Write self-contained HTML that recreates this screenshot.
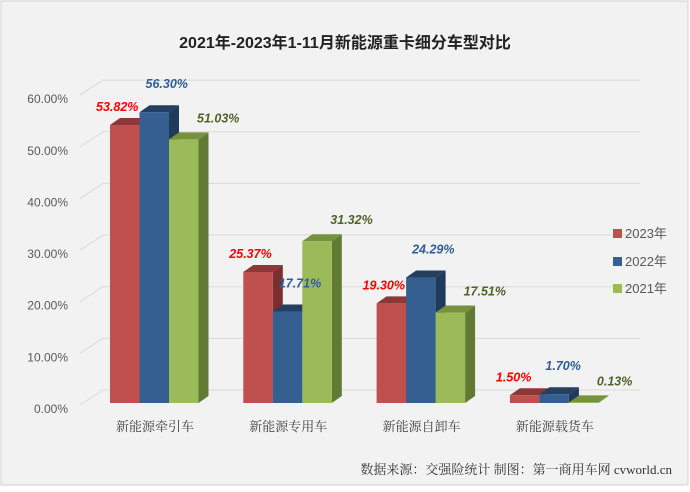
<!DOCTYPE html>
<html><head><meta charset="utf-8"><style>
body{margin:0;background:#fff;}
#c{position:relative;width:690px;height:487px;font-family:"Liberation Sans","Noto Sans CJK SC",sans-serif;}
</style></head><body>
<div id="c">
<svg id="svg" width="690" height="487" xmlns="http://www.w3.org/2000/svg">
<rect x="1" y="1" width="687" height="484" fill="#f2f2f2" stroke="#d0d0d0"/>
<text x="345" y="48" text-anchor="middle" font-size="16" font-weight="bold" fill="#222" font-family="Liberation Sans,Noto Sans CJK SC,sans-serif">2021年-2023年1-11月新能源重卡细分车型对比</text>
<g id="grid"></g><g id="bars"></g><g id="labels"></g>
<g>
<rect x="613" y="229" width="9" height="9" fill="#c0504d"/>
<text x="625" y="238" font-size="13" fill="#595959">2023年</text>
<rect x="613" y="257" width="9" height="9" fill="#365f91"/>
<text x="625" y="266" font-size="13" fill="#595959">2022年</text>
<rect x="613" y="284" width="9" height="9" fill="#9bbb59"/>
<text x="625" y="293" font-size="13" fill="#595959">2021年</text>
</g>
<text x="672" y="474" text-anchor="end" font-size="13" fill="#333" font-family="Liberation Serif,Noto Serif CJK SC,serif">数据来源：交强险统计  制图：第一商用车网 cvworld.cn</text>
</svg>
</div>
<script>
const categories=["新能源牵引车","新能源专用车","新能源自卸车","新能源载货车"];
const s2023=[53.82,25.37,19.30,1.50];
const s2022=[56.30,17.71,24.29,1.70];
const s2021=[51.03,31.32,17.51,0.13];
const yTicks=[0,10,20,30,40,50,60];
const NS="http://www.w3.org/2000/svg";
const base=403,scale=5.165,dx=10,dy=7,x0=80,plotL=90,plotR=640;
const y=v=>base-v*scale;
const gx=i=>110+i*133.3;
function mk(t,a,p){const e=document.createElementNS(NS,t);for(const k in a)e.setAttribute(k,a[k]);p.appendChild(e);return e;}
const grid=document.getElementById('grid'),bars=document.getElementById('bars'),labs=document.getElementById('labels');
yTicks.forEach(t=>{
 const yy=y(t);
 const l=mk('line',{x1:x0+23,y1:yy-13,x2:plotR,y2:yy-13,stroke:'#d9d9d9','stroke-width':1},grid);
 
 
 const d=mk('line',{x1:x0,y1:yy+2,x2:x0+23,y2:yy-13,stroke:'#d9d9d9','stroke-width':1},grid);
 
 
 const tx=mk('text',{x:68,y:yy+10,'text-anchor':'end','font-size':12,fill:'#595959'},grid);
 tx.textContent=t.toFixed(2)+'%';
 
 
});
const series=[{d:s2023,f:'#c0504d',t:'#8c3836',s:'#7a2f2d',lc:'#ff0000',n:'2023'},{d:s2022,f:'#365f91',t:'#243f60',s:'#1f3a5a',lc:'#2e5e9a',n:'2022'},{d:s2021,f:'#9bbb59',t:'#76923c',s:'#627a33',lc:'#4f6228',n:'2021'}];
const bw=29.5;
categories.forEach((c,i)=>{
 series.forEach((s,j)=>{
  const x=gx(i)+j*bw,top=y(s.d[i]);
  const g=mk('g',{},bars);
  
  
  mk('polygon',{points:`${x+bw},${top} ${x+bw+dx},${top-dy} ${x+bw+dx},${base-dy} ${x+bw},${base}`,fill:s.s},g);
  mk('polygon',{points:`${x},${top} ${x+dx},${top-dy} ${x+bw+dx},${top-dy} ${x+bw},${top}`,fill:s.t},g);
  mk('rect',{x:x,y:top,width:bw,height:base-top,fill:s.f},g);
  const ly=top-(j==0?14:(j==1?24:17));
  const lx=j==0?x-14:(j==1?x+6:x+28);
  const tx=mk('text',{x:lx,y:ly,'font-size':12.5,'font-weight':'bold','font-style':'italic',fill:s.lc},labs);
  tx.textContent=s.d[i].toFixed(2)+'%';
  
  
 });
 const ct=mk('text',{x:gx(i)+45,y:431,'text-anchor':'middle','font-size':13,fill:'#404040','font-family':'Liberation Serif,Noto Serif CJK SC,serif'},labs);
 ct.textContent=c;
 
 
});
</script>
</body></html>
